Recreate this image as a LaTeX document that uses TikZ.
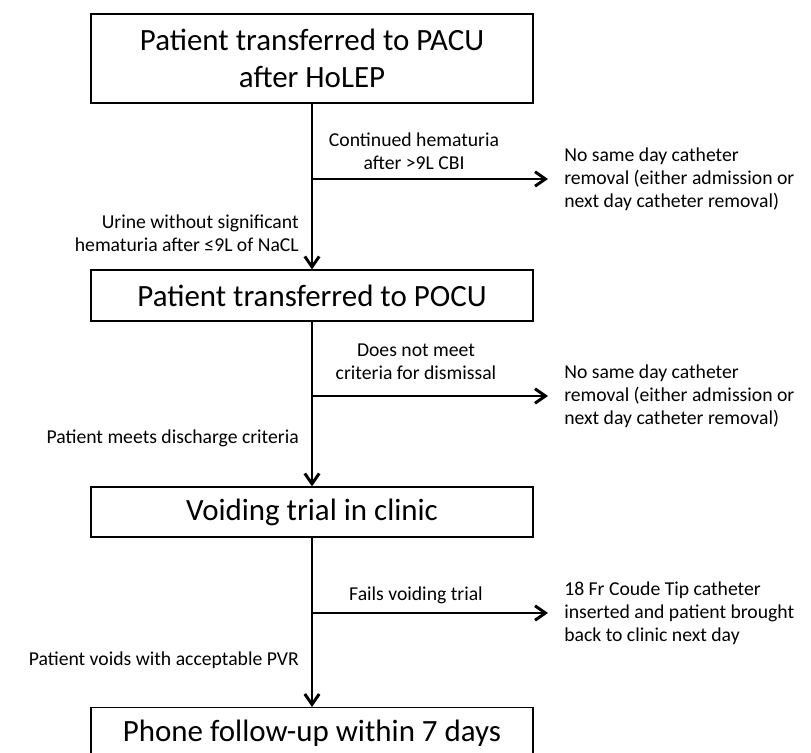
\documentclass[tikz,border=0pt]{standalone}
\usepackage{fontspec}
\setmainfont{Carlito}
\usetikzlibrary{arrows.meta}

\begin{document}
\begin{tikzpicture}[
    stage/.style = {draw, line width=0.8pt, minimum width=11.05cm, align=center,
                    font=\fontsize{22}{26}\selectfont},
    flow/.style  = {line width=2.1pt, -{Straight Barb[length=2.6mm, width=3.6mm, line width=2.1pt]}},
    note/.style  = {font=\fontsize{14}{16.5}\selectfont, inner sep=0pt},
    outcome/.style = {note, anchor=west, align=left, inner xsep=0.4cm}
  ]

    \clip (0,0) rectangle (20.275,18.8);

    % main boxes
    \node [stage, minimum height=2.225cm] (pacu) at (7.8,17.3375)
          {Patient transferred to PACU\\after HoLEP};
    \node [stage, minimum height=1.275cm] (pocu) at (7.8,11.4125)
          {Patient transferred to POCU};
    \node [stage, minimum height=1.25cm] (void) at (7.8,6.0)
          {Voiding trial in clinic};
    \node [stage, minimum height=1.3cm, anchor=north] (phone) at (7.8,1.125)
          {Phone follow-up within 7 days};

    % down the middle
    \draw [flow] (pacu) -- (pocu);
    \draw [flow] (pocu) -- (void);
    \draw [flow] (void) -- (phone);

    \node [note, anchor=east, align=right] (stay) at (7.475,12.9625)
          {Urine without significant\\hematuria after ≤9L of NaCL};
    \node [note, anchor=east] (meets) at (7.475,7.85) {Patient meets discharge criteria};
    \node [note, anchor=east] (voids) at (7.475,2.3) {Patient voids with acceptable PVR};

    % side branches
    \coordinate (b1) at (7.8,14.325);
    \coordinate (b2) at (7.8,8.9);
    \coordinate (b3) at (7.8,3.475);

    \node [outcome] (admit1) at (13.7,14.325)
          {No same day catheter\\removal (either admission or\\next day catheter removal)};
    \node [outcome] (admit2) at (13.7,8.9)
          {No same day catheter\\removal (either admission or\\next day catheter removal)};
    \node [outcome] (coude) at (13.7,3.475)
          {18 Fr Coude Tip catheter\\inserted and patient brought\\back to clinic next day};

    \draw [flow] (b1) -- (admit1);
    \draw [flow] (b2) -- (admit2);
    \draw [flow] (b3) -- (coude);

    \node [note, align=center] (bleed) at (10.35,15.025)
          {Continued hematuria\\after >9L CBI};
    \node [note, align=center] (crit) at (10.4,9.7625)
          {Does not meet\\criteria for dismissal};
    \node [note] (fails) at (10.4,3.925) {Fails voiding trial};

\end{tikzpicture}
\end{document}
